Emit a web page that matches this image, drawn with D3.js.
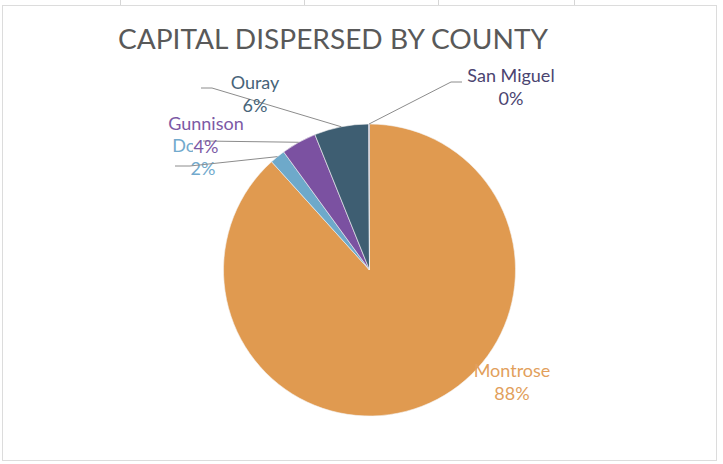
<!DOCTYPE html>
<html>
<head>
<meta charset="utf-8">
<script src="https://cdn.jsdelivr.net/npm/d3@7"></script>
<style>
  body { margin: 0; background: #fff; }
  svg { display: block; font-family: Lato, "Open Sans", sans-serif; }
</style>
</head>
<body>
<svg id="mychart"></svg>
<script>
// data
var counties = ["Montrose", "Dolores", "Gunnison", "Ouray", "San Miguel"];
var shares = [88.3, 1.7, 3.9, 6.0, 0.1];
var sliceColors = ["#e09a50", "#6ea9ca", "#7b51a1", "#3e5e72", "#4b4470"];
var textColors = ["#e29f5c", "#72aacd", "#7c59a5", "#476479", "#4b4470"];

// label layout: [x centre, baseline of name line], leader line start (null = none)
var labelAt = [[512, 377], [203, 152], [206, 130], [255, 89], [511, 82]];
var leaderFrom = [null, [[175, 166], [190, 166]], [[203, 141]], [[201, 88], [212, 88]], [[462, 82], [451, 82]]];

var width = 723;
var height = 464;
var cx = 369.5, cy = 270, radius = 146;

var svg = d3.select("#mychart")
  .attr("width", width)
  .attr("height", height);

// sheet frame
svg.append("rect")
  .attr("x", 2.5).attr("y", 5.5)
  .attr("width", 714).attr("height", 455)
  .attr("fill", "none")
  .attr("stroke", "#dcdcdc");
[120, 304, 438, 574].forEach(function (x) {
  svg.append("line")
    .attr("x1", x + 0.5).attr("x2", x + 0.5)
    .attr("y1", 0).attr("y2", 5)
    .attr("stroke", "#d6d6d6");
});

svg.append("text")
  .attr("x", 118)
  .attr("y", 49)
  .attr("textLength", 430)
  .attr("lengthAdjust", "spacingAndGlyphs")
  .attr("fill", "#595959")
  .style("font-size", "26px")
  .text("CAPITAL DISPERSED BY COUNTY");

var data = counties.map(function (c, i) { return { name: c, value: shares[i] }; });

var pie = d3.pie()
  .value(function (d) { return d.value; })
  .sort(null);

var arc = d3.arc().innerRadius(0).outerRadius(radius);
var rim = d3.arc().innerRadius(radius).outerRadius(radius);

var arcs = pie(data);
var g = svg.append("g")
  .attr("transform", "translate(" + cx + "," + cy + ")");

function drawLabel(d, i) {
  var pos = labelAt[i];
  var t = svg.append("text")
    .attr("text-anchor", "middle")
    .attr("fill", textColors[i])
    .style("font-size", "18px");
  t.append("tspan").attr("x", pos[0]).attr("y", pos[1]).text(d.data.name);
  t.append("tspan").attr("x", pos[0]).attr("y", pos[1] + 23)
    .text(Math.round(d.data.value) + "%");
}

// Montrose label sits under the pie edge
drawLabel(arcs[0], 0);

g.selectAll("path")
  .data(arcs)
  .enter()
  .append("path")
  .attr("d", arc)
  .attr("fill", function (d, i) { return sliceColors[i]; })
  .attr("stroke", "#f4f4f4")
  .attr("stroke-width", 0.6);

// Gunnison's label box hides most of the Dolores name
drawLabel(arcs[1], 1);
svg.append("rect")
  .attr("x", 193).attr("y", 133)
  .attr("width", 46).attr("height", 21)
  .attr("fill", "#fff");

// leader lines
arcs.forEach(function (d, i) {
  if (!leaderFrom[i]) return;
  var c = rim.centroid(d);
  var pts = leaderFrom[i].concat([[cx + c[0], cy + c[1]]]);
  svg.append("path")
    .attr("d", d3.line()(pts))
    .attr("fill", "none")
    .attr("stroke", "#8c8c8c")
    .attr("stroke-width", 1);
});

[2, 3, 4].forEach(function (i) { drawLabel(arcs[i], i); });
</script>
</body>
</html>
